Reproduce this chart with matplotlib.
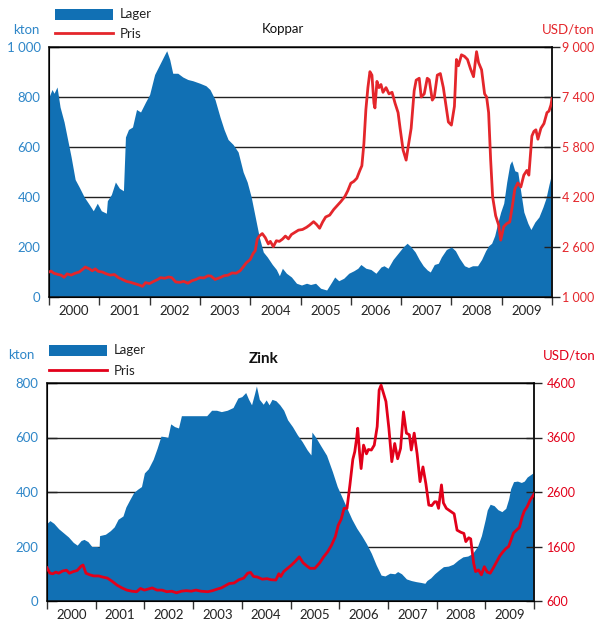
#Copper and zinc: LME stocks (area) and price (line), 2000-2009
import matplotlib.pyplot as plt
from matplotlib.patches import Rectangle
from matplotlib.lines import Line2D
from matplotlib.ticker import FuncFormatter

plt.rcParams['font.family'] = ['Lato', 'DejaVu Sans']

BLUE = '#1170B4'
TICKBLUE = '#2E86C8'
CU_RED = '#E4262B'
ZN_RED = '#E2001A'

years = ['2000', '2001', '2002', '2003', '2004', '2005', '2006', '2007', '2008', '2009']

# copper stocks (kton), time in decimal years
cu_stock_t = [2000.00, 2000.06, 2000.10, 2000.16, 2000.22, 2000.30, 2000.36, 2000.44, 2000.52, 2000.60,
              2000.70, 2000.80, 2000.88, 2000.96, 2001.04, 2001.14, 2001.16, 2001.24, 2001.32, 2001.40,
              2001.48, 2001.52, 2001.58, 2001.66, 2001.74, 2001.82, 2001.92, 2002.00, 2002.10, 2002.20,
              2002.30, 2002.34, 2002.40, 2002.46, 2002.56, 2002.66, 2002.76, 2002.86, 2003.00, 2003.12,
              2003.20, 2003.30, 2003.40, 2003.48, 2003.56, 2003.66, 2003.76, 2003.86, 2003.94, 2004.02,
              2004.10, 2004.18, 2004.26, 2004.34, 2004.44, 2004.52, 2004.58, 2004.64, 2004.72, 2004.82,
              2004.92, 2005.02, 2005.12, 2005.20, 2005.30, 2005.40, 2005.52, 2005.62, 2005.68, 2005.76,
              2005.86, 2005.96, 2006.06, 2006.14, 2006.20, 2006.30, 2006.40, 2006.50, 2006.60, 2006.66,
              2006.74, 2006.84, 2006.94, 2007.04, 2007.12, 2007.20, 2007.28, 2007.36, 2007.44, 2007.52,
              2007.58, 2007.66, 2007.74, 2007.80, 2007.90, 2008.00, 2008.08, 2008.16, 2008.26, 2008.34,
              2008.42, 2008.52, 2008.60, 2008.68, 2008.74, 2008.80, 2008.86, 2008.92, 2008.98, 2009.04,
              2009.10, 2009.16, 2009.20, 2009.26, 2009.32, 2009.38, 2009.44, 2009.52, 2009.58, 2009.66,
              2009.74, 2009.82, 2009.88, 2009.94, 2010.00]
cu_stock = [800, 830, 815, 840, 760, 700, 640, 560, 470, 440,
            400, 370, 345, 375, 345, 335, 385, 410, 460, 435,
            425, 640, 670, 680, 750, 740, 780, 810, 890, 930,
            970, 985, 950, 895, 895, 880, 870, 865, 855, 845,
            830, 790, 720, 670, 630, 610, 580, 500, 460, 400,
            320, 240, 180, 160, 130, 110, 85, 115, 95, 80,
            55, 48, 55, 50, 55, 35, 28, 60, 80, 65,
            75, 95, 105, 115, 130, 115, 110, 95, 120, 125,
            115, 150, 175, 200, 215, 200, 180, 150, 125, 108,
            100, 130, 135, 160, 190, 200, 185, 155, 125, 118,
            125, 125, 150, 185, 205, 215, 245, 295, 340, 375,
            460, 530, 545, 505, 500, 420, 340, 295, 270, 300,
            320, 360, 395, 450, 500]

# copper price (USD/ton)
cu_price_t = [2000.00, 2000.04, 2000.10, 2000.18, 2000.24, 2000.30, 2000.36, 2000.44, 2000.52, 2000.60,
              2000.68, 2000.72, 2000.80, 2000.86, 2000.92, 2000.98, 2001.06, 2001.14, 2001.22, 2001.30,
              2001.38, 2001.46, 2001.54, 2001.62, 2001.70, 2001.78, 2001.86, 2001.92, 2002.00, 2002.08,
              2002.16, 2002.22, 2002.30, 2002.38, 2002.44, 2002.52, 2002.60, 2002.68, 2002.76, 2002.84,
              2002.92, 2003.00, 2003.08, 2003.16, 2003.22, 2003.30, 2003.40, 2003.48, 2003.56, 2003.64,
              2003.72, 2003.80, 2003.86, 2003.92, 2004.00, 2004.06, 2004.10, 2004.14, 2004.18, 2004.24,
              2004.30, 2004.36, 2004.40, 2004.46, 2004.52, 2004.58, 2004.64, 2004.70, 2004.76, 2004.82,
              2004.90, 2004.96, 2005.04, 2005.12, 2005.18, 2005.26, 2005.32, 2005.38, 2005.44, 2005.50,
              2005.58, 2005.66, 2005.74, 2005.80, 2005.88, 2005.94, 2006.00, 2006.06, 2006.12, 2006.18,
              2006.22, 2006.26, 2006.30, 2006.34, 2006.38, 2006.42, 2006.46, 2006.48, 2006.52, 2006.56,
              2006.60, 2006.64, 2006.70, 2006.76, 2006.82, 2006.88, 2006.94, 2006.98, 2007.04, 2007.10,
              2007.14, 2007.20, 2007.26, 2007.30, 2007.36, 2007.40, 2007.46, 2007.52, 2007.56, 2007.62,
              2007.66, 2007.72, 2007.78, 2007.84, 2007.90, 2007.94, 2008.00, 2008.06, 2008.10, 2008.14,
              2008.20, 2008.26, 2008.32, 2008.38, 2008.44, 2008.50, 2008.54, 2008.60, 2008.66, 2008.70,
              2008.74, 2008.78, 2008.82, 2008.88, 2008.94, 2008.98, 2009.04, 2009.10, 2009.16, 2009.22,
              2009.26, 2009.32, 2009.38, 2009.44, 2009.50, 2009.54, 2009.60, 2009.64, 2009.68, 2009.72,
              2009.78, 2009.84, 2009.90, 2009.94, 2009.98, 2010.00]
cu_price = [1800, 1830, 1760, 1720, 1700, 1630, 1740, 1700, 1760, 1800,
            1900, 1960, 1900, 1840, 1900, 1820, 1800, 1740, 1700, 1720,
            1620, 1560, 1500, 1470, 1430, 1390, 1340, 1460, 1430, 1500,
            1560, 1620, 1600, 1640, 1620, 1480, 1470, 1500, 1440, 1520,
            1560, 1620, 1610, 1680, 1670, 1560, 1620, 1680, 1700, 1770,
            1760, 1840, 1960, 2090, 2200, 2400, 2480, 2850, 2950, 3030,
            2900, 2700, 2780, 2610, 2800, 2780, 2850, 2950, 2860, 3000,
            3080, 3140, 3160, 3230, 3300, 3410, 3320, 3200, 3400, 3560,
            3620, 3800, 3940, 4050, 4210, 4400, 4640, 4700, 4800, 5050,
            5200, 5900, 7000, 7700, 8210, 8100, 7200, 7050, 7900, 7700,
            7800, 7550, 7700, 7500, 7550, 7200, 6900, 6400, 5700, 5380,
            5800, 6400, 7600, 7940, 8000, 7400, 7500, 8000, 7950, 7300,
            7400, 8100, 8150, 7700, 7050, 6600, 6500, 7100, 8600, 8400,
            8750, 8700, 8600, 8300, 8050, 8850, 8500, 8270, 7500, 7400,
            6900, 5400, 4200, 3600, 3300, 2820, 3250, 3350, 3400, 4000,
            4450, 4650, 4520, 4900, 5050, 4900, 6150, 6300, 6350, 6050,
            6400, 6550, 6900, 6950, 7150, 7350]

# zinc stocks (kton)
zn_stock_t = [2000.00, 2000.06, 2000.14, 2000.24, 2000.34, 2000.44, 2000.54, 2000.62, 2000.70, 2000.76,
              2000.84, 2000.92, 2001.02, 2001.07, 2001.08, 2001.20, 2001.30, 2001.38, 2001.46, 2001.56,
              2001.62, 2001.70, 2001.78, 2001.86, 2001.94, 2002.00, 2002.08, 2002.18, 2002.26, 2002.34,
              2002.42, 2002.48, 2002.54, 2002.62, 2002.70, 2002.76, 2003.00, 2003.28, 2003.38, 2003.48,
              2003.58, 2003.70, 2003.82, 2003.92, 2004.00, 2004.08, 2004.14, 2004.20, 2004.26, 2004.30,
              2004.36, 2004.44, 2004.50, 2004.56, 2004.62, 2004.70, 2004.78, 2004.86, 2004.94, 2005.04,
              2005.14, 2005.24, 2005.34, 2005.42, 2005.44, 2005.52, 2005.62, 2005.74, 2005.86, 2005.96,
              2006.06, 2006.16, 2006.26, 2006.36, 2006.46, 2006.56, 2006.66, 2006.76, 2006.86, 2006.94,
              2007.04, 2007.14, 2007.20, 2007.28, 2007.38, 2007.48, 2007.58, 2007.68, 2007.76, 2007.80,
              2007.88, 2007.96, 2008.06, 2008.14, 2008.24, 2008.34, 2008.44, 2008.54, 2008.64, 2008.74,
              2008.84, 2008.92, 2009.00, 2009.04, 2009.10, 2009.18, 2009.26, 2009.34, 2009.42, 2009.48,
              2009.52, 2009.58, 2009.66, 2009.74, 2009.80, 2009.86, 2009.94, 2009.98, 2010.00]
zn_stock = [285, 295, 285, 265, 250, 235, 215, 205, 222, 226,
            218, 200, 200, 197, 240, 245, 258, 272, 300, 312,
            345, 372, 398, 410, 420, 470, 485, 520, 560, 605,
            603, 600, 650, 640, 635, 680, 680, 680, 700, 700,
            695, 700, 710, 745, 750, 765, 740, 720, 760, 789,
            740, 722, 738, 720, 740, 735, 720, 700, 665, 640,
            610, 585, 555, 536, 620, 600, 570, 535, 475, 420,
            380, 340, 300, 267, 240, 210, 175, 132, 95, 92,
            102, 100, 108, 100, 81, 75, 71, 68, 65, 75,
            85, 100, 115, 126, 128, 135, 150, 162, 165, 175,
            200, 240, 300, 334, 355, 350, 335, 328, 340, 375,
            412, 438, 440, 435, 440, 455, 465, 470, 488]

# zinc price (USD/ton)
zn_price_t = [2000.00, 2000.06, 2000.12, 2000.18, 2000.24, 2000.32, 2000.40, 2000.46, 2000.54, 2000.62,
              2000.70, 2000.74, 2000.80, 2000.88, 2000.96, 2001.06, 2001.14, 2001.24, 2001.34, 2001.44,
              2001.54, 2001.64, 2001.74, 2001.84, 2001.92, 2002.00, 2002.08, 2002.16, 2002.26, 2002.36,
              2002.46, 2002.56, 2002.66, 2002.76, 2002.86, 2002.96, 2003.06, 2003.16, 2003.30, 2003.40,
              2003.50, 2003.58, 2003.66, 2003.74, 2003.84, 2003.94, 2004.04, 2004.12, 2004.18, 2004.24,
              2004.32, 2004.42, 2004.52, 2004.60, 2004.70, 2004.76, 2004.80, 2004.86, 2004.94, 2005.02,
              2005.10, 2005.18, 2005.26, 2005.34, 2005.40, 2005.50, 2005.60, 2005.68, 2005.76, 2005.84,
              2005.92, 2005.98, 2006.04, 2006.10, 2006.16, 2006.22, 2006.28, 2006.32, 2006.36, 2006.38,
              2006.42, 2006.45, 2006.50, 2006.56, 2006.60, 2006.66, 2006.72, 2006.78, 2006.82, 2006.86,
              2006.90, 2006.96, 2007.02, 2007.08, 2007.14, 2007.20, 2007.26, 2007.32, 2007.38, 2007.44,
              2007.48, 2007.54, 2007.60, 2007.66, 2007.72, 2007.78, 2007.84, 2007.90, 2007.96, 2008.00,
              2008.04, 2008.10, 2008.14, 2008.20, 2008.28, 2008.36, 2008.42, 2008.50, 2008.56, 2008.60,
              2008.66, 2008.70, 2008.76, 2008.80, 2008.86, 2008.92, 2008.98, 2009.04, 2009.10, 2009.16,
              2009.22, 2009.30, 2009.36, 2009.42, 2009.48, 2009.52, 2009.58, 2009.64, 2009.70, 2009.76,
              2009.80, 2009.86, 2009.92, 2010.00]
zn_price = [1210, 1110, 1100, 1130, 1110, 1150, 1165, 1110, 1140, 1160,
            1240, 1260, 1110, 1080, 1060, 1060, 1040, 1020, 960, 890,
            840, 800, 780, 770, 830, 800, 820, 840, 800, 800,
            770, 780, 750, 780, 790, 780, 800, 780, 770, 790,
            820, 840, 880, 920, 930, 990, 1020, 1110, 1125, 1050,
            1040, 1000, 1010, 990, 985, 1100, 1050, 1140, 1200, 1260,
            1330, 1410, 1300, 1240, 1200, 1200, 1300, 1410, 1500, 1620,
            1780, 1990, 2100, 2300, 2300, 2730, 3200, 3340, 3600, 3770,
            3300, 3030, 3460, 3300, 3380, 3370, 3460, 3800, 4470, 4560,
            4440, 4260, 3770, 3157, 3490, 3210, 3400, 4070, 3680, 3650,
            3370, 3680, 3300, 2790, 3060, 2750, 2360, 2350, 2420, 2420,
            2300, 2730, 2400, 2300, 2250, 2200, 1900, 1860, 1840, 1690,
            1760, 1740, 1300, 1140, 1170, 1080, 1230, 1130, 1110, 1200,
            1300, 1430, 1500, 1560, 1600, 1700, 1850, 1900, 1950, 2150,
            2250, 2330, 2450, 2560]


def space_thousands(v, pos):
    return f'{int(v):,}'.replace(',', ' ')


def panel(rect, st_t, st, pr_t, pr, kmax, kstep, pmin, pmax, red, fmt, lw, rpad):
    ax = fig.add_axes(rect)
    ax.fill_between(st_t, st, 0, color=BLUE, lw=0, zorder=1)
    ax.set_xlim(2000, 2010)
    ax.set_ylim(0, kmax)
    ax.set_yticks(range(0, kmax + 1, kstep))
    ax.yaxis.set_major_formatter(FuncFormatter(fmt))
    ax.set_axisbelow(True)
    ax.grid(axis='y', color='#222222', lw=1.0)
    ax.tick_params(axis='y', direction='in', length=7, width=1, pad=6,
                   colors='#222222', labelcolor=TICKBLUE, labelsize=9.5)
    # year boundaries as major ticks, year names at mid-year
    ax.set_xticks(range(2000, 2011))
    ax.set_xticklabels([])
    ax.set_xticks([y + 0.5 for y in range(2000, 2010)], minor=True)
    ax.set_xticklabels(years, minor=True)
    ax.tick_params(axis='x', which='major', direction='out', length=6, width=1, colors='#333333')
    ax.tick_params(axis='x', which='minor', length=0, pad=6, labelsize=9.5, labelcolor='#222222')
    for s in ax.spines.values():
        s.set_linewidth(1.1)
        s.set_color('#111111')

    ax2 = ax.twinx()
    ax2.plot(pr_t, pr, color=red, lw=lw, zorder=3)
    ax2.set_ylim(pmin, pmax)
    ax2.set_yticks([pmin + (pmax - pmin) * i * kstep / kmax for i in range(kmax // kstep + 1)])
    ax2.yaxis.set_major_formatter(FuncFormatter(fmt))
    ax2.tick_params(axis='y', direction='inout', length=12, width=1, pad=rpad,
                    colors='#222222', labelcolor=red, labelsize=9)
    ax2.spines['right'].set_linewidth(1.1)
    ax2.spines['right'].set_color('#111111')
    return ax, ax2


def legend(x0, y_patch, y_line, red):
    W, H = 595.0, 624.0
    fig.add_artist(Rectangle((x0 / W, 1 - (y_patch + 6) / H), 58 / W, 11 / H,
                             transform=fig.transFigure, color=BLUE, lw=0))
    fig.add_artist(Line2D([x0 / W, (x0 + 58) / W], [1 - y_line / H] * 2,
                          transform=fig.transFigure, color=red, lw=2))
    fig.text((x0 + 65) / W, 1 - y_patch / H, 'Lager', fontsize=9.5, va='center', color='#222222')
    fig.text((x0 + 65) / W, 1 - (y_line + 1) / H, 'Pris', fontsize=9.5, va='center', color='#222222')


fig = plt.figure(figsize=(5.95, 6.24), dpi=100)
W, H = 595.0, 624.0

# copper
panel([49 / W, 1 - 297 / H, 503 / W, 250 / H], cu_stock_t, cu_stock, cu_price_t, cu_price,
      1000, 200, 1000, 9000, CU_RED, space_thousands, 2.0, 1.5)
legend(55, 14, 33, CU_RED)
fig.text(26 / W, 1 - 30 / H, 'kton', fontsize=9.5, color=TICKBLUE, ha='center', va='center')
fig.text(568 / W, 1 - 30 / H, 'USD/ton', fontsize=9.5, color=CU_RED, ha='center', va='center')
fig.text(283 / W, 1 - 29 / H, 'Koppar', fontsize=9.5, color='#111111', ha='center', va='center')

# zinc
panel([47 / W, 1 - 601 / H, 487 / W, 218 / H], zn_stock_t, zn_stock, zn_price_t, zn_price,
      800, 200, 600, 4600, ZN_RED, lambda v, p: f'{int(v)}', 2.0, 3)
legend(49, 350, 370, ZN_RED)
fig.text(21 / W, 1 - 355 / H, 'kton', fontsize=9.5, color=TICKBLUE, ha='center', va='center')
fig.text(569 / W, 1 - 355 / H, 'USD/ton', fontsize=9.5, color=ZN_RED, ha='center', va='center')
fig.text(264 / W, 1 - 359 / H, 'Zink', fontsize=11, fontweight='bold', color='#111111',
         ha='center', va='center')

fig.savefig('out.png', dpi=100)
